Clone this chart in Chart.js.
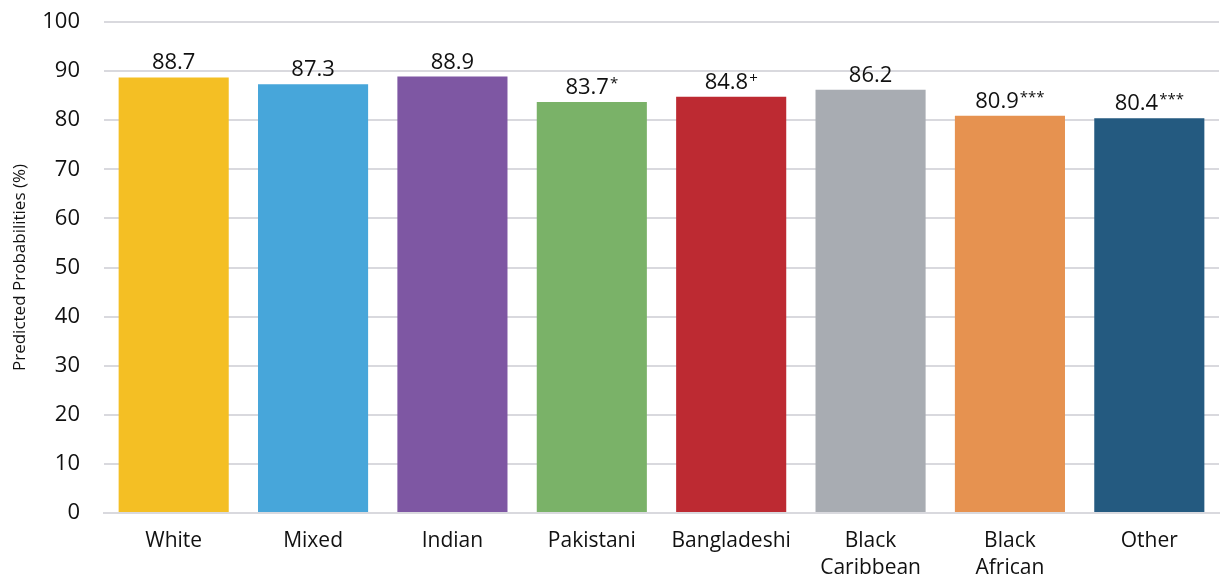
<!DOCTYPE html>
<html>
<head>
<meta charset="utf-8">
<script src="https://cdn.jsdelivr.net/npm/chart.js@4/dist/chart.umd.min.js"></script>
<style>
  html, body { margin: 0; padding: 0; background: #fff; }
  #wrap { width: 1227px; height: 579px; }
</style>
</head>
<body>
<div id="wrap"><canvas id="chart"></canvas></div>
<script>
const categories = ['White', 'Mixed', 'Indian', 'Pakistani', 'Bangladeshi', ['Black', 'Caribbean'], ['Black', 'African'], 'Other'];
const values = [88.7, 87.3, 88.9, 83.7, 84.8, 86.2, 80.9, 80.4];
const markers = ['', '', '', '*', '+', '', '***', '***'];
const colors = ['#F4BF24', '#47A6DA', '#7E57A3', '#7AB268', '#BD2A32', '#A8ACB2', '#E69250', '#245A80'];
const yTicks = [0, 10, 20, 30, 40, 50, 60, 70, 80, 90, 100];

const FONT = '"Open Sans", "Noto Sans", sans-serif';

// value labels above bars, with small significance markers
const valueLabels = {
  id: 'valueLabels',
  afterDatasetsDraw(chart) {
    const ctx = chart.ctx;
    const meta = chart.getDatasetMeta(0);
    ctx.save();
    ctx.fillStyle = '#111';
    ctx.textBaseline = 'alphabetic';
    meta.data.forEach((bar, i) => {
      const main = values[i].toFixed(1);
      const sup = markers[i];
      ctx.font = '22px ' + FONT;
      const wMain = ctx.measureText(main).width;
      ctx.font = '15px ' + FONT;
      const wSup = sup ? ctx.measureText(sup).width + 1 : 0;
      const x0 = bar.x - (wMain + wSup) / 2;
      const y = bar.y - 8;
      ctx.font = '22px ' + FONT;
      ctx.textAlign = 'left';
      ctx.fillText(main, x0, y);
      if (sup) {
        ctx.font = '15px ' + FONT;
        ctx.fillText(sup, x0 + wMain + 1, y - 6);
      }
    });
    ctx.restore();
  }
};

new Chart(document.getElementById('chart'), {
  type: 'bar',
  data: {
    labels: categories,
    datasets: [{
      data: values,
      backgroundColor: colors,
      barPercentage: 0.79,
      categoryPercentage: 1.0
    }]
  },
  plugins: [valueLabels],
  options: {
    responsive: true,
    maintainAspectRatio: false,
    animation: false,
    layout: { padding: { top: 22, right: 8, left: 8, bottom: 0 } },
    plugins: {
      legend: { display: false },
      tooltip: { enabled: false }
    },
    scales: {
      x: {
        afterFit(axis) { axis.height = 66; },
        grid: { display: false, drawTicks: false },
        border: { display: true, color: '#d9d9de', width: 2 },
        ticks: {
          color: '#111',
          font: { family: FONT, size: 21, lineHeight: 1.3 },
          padding: 14,
          maxRotation: 0,
          autoSkip: false
        }
      },
      y: {
        min: 0,
        max: 100,
        afterBuildTicks(axis) {
          axis.ticks = yTicks.map(v => ({ value: v }));
        },
        afterFit(axis) {
          axis.width = 96;
          axis.paddingTop = 0;
          axis.paddingBottom = 0;
        },
        grid: { color: '#d9d9de', lineWidth: 2, drawTicks: false },
        border: { display: false },
        ticks: {
          color: '#111',
          font: { family: FONT, size: 22 },
          padding: 24
        },
        title: {
          display: true,
          text: 'Predicted Probabilities (%)',
          color: '#111',
          font: { family: FONT, size: 17 },
          padding: { top: 2, bottom: 12 }
        }
      }
    }
  }
});
</script>
</body>
</html>
